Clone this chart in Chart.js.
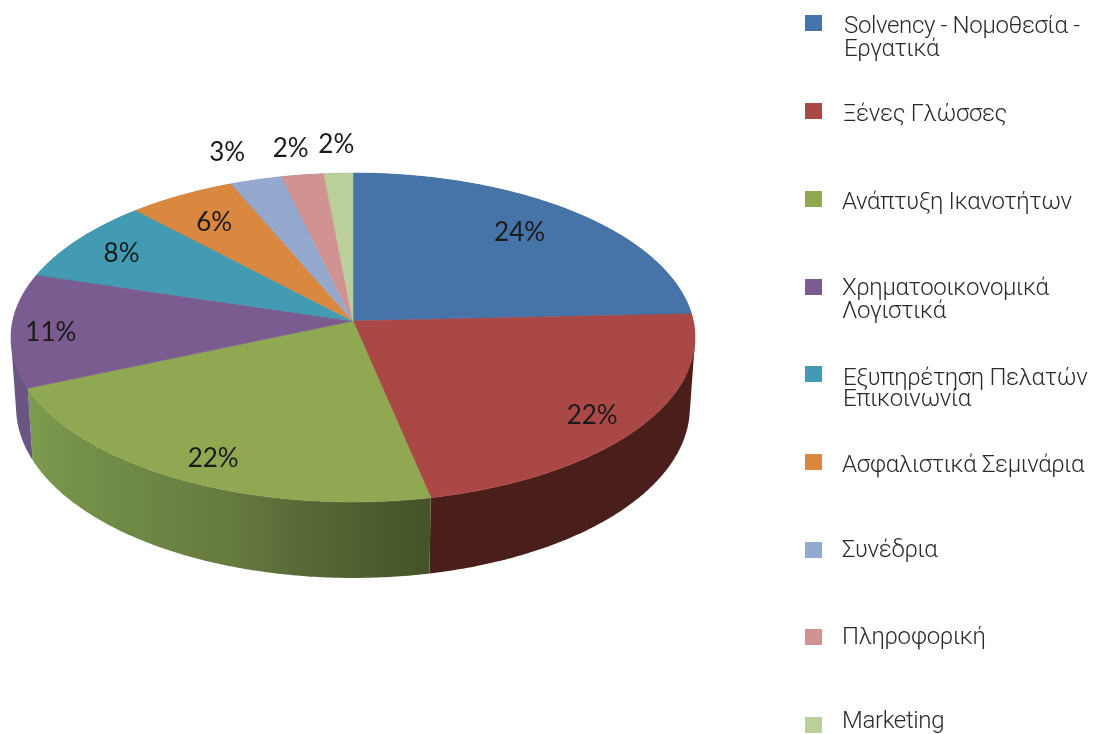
<!DOCTYPE html>
<html>
<head>
<meta charset="utf-8">
<style>
  html, body { margin: 0; background: #fff; }
  canvas { display: block; }
</style>
<script src="https://cdn.jsdelivr.net/npm/chart.js@4"></script>
</head>
<body>
<canvas id="pie3d" width="1096" height="734"></canvas>
<script>
var categories = ['Solvency - Νομοθεσία - Εργατικά', 'Ξένες Γλώσσες', 'Ανάπτυξη Ικανοτήτων', 'Χρηματοοικονομικά Λογιστικά',
    'Εξυπηρέτηση Πελατών Επικοινωνία', 'Ασφαλιστικά Σεμινάρια', 'Συνέδρια', 'Πληροφορική', 'Marketing'];
var legendLines = [['Solvency - Νομοθεσία -', 'Εργατικά'], ['Ξένες Γλώσσες'], ['Ανάπτυξη Ικανοτήτων'], ['Χρηματοοικονομικά', 'Λογιστικά'],
    ['Εξυπηρέτηση Πελατών', 'Επικοινωνία'], ['Ασφαλιστικά Σεμινάρια'], ['Συνέδρια'], ['Πληροφορική'], ['Marketing']];
var values = [24.3, 22.4, 21.8, 11.2, 8.3, 5.6, 2.7, 2.2, 1.5];
var colors = ['#4674a9', '#aa4845', '#8fa851', '#7b5c91', '#429bb3', '#da873f', '#95a9cf', '#d09392', '#bacf99'];
var sideColors = ['#2c4669', '#4a1f1b', '#66803f', '#6b5583', '#2a6272', '#8a5527', '#5e6c85', '#85605f', '#768360'];

// label placement: radius as a share of the pie, plus small nudges
var labelRadius = [0.77, 0.86, 0.85, 0.885, 0.84, 0.79, 1.23, 1.22, 1.245];
var labelNudgeX = [-5, -5, 4, 0, 1, -1, -9, -2, 1];
var labelNudgeY = [-3, 4, 5, 3, 2, 3, 2, 2, 4];

// legend layout
var legendSwatchY = [23, 111, 199, 287, 374, 462, 550, 637, 725];
var legendTextY = [33, 121, 209, 295, 385, 472, 557, 644, 728];
var legendTextX = [844, 843, 842, 842, 843, 842, 842, 842, 842];
var legendLineGap = [23, 0, 0, 23, 21, 0, 0, 0, 0];

// perspective of the tilted disc
var hubX = 353, hubY = 321, radX = 340.3, radY = 162.8, persp = 0.1003;

function project(angle, f) {
    var u = Math.cos(angle) * f, v = Math.sin(angle) * f;
    var w = 1 - persp * v;
    return { x: hubX + radX * u / w, y: hubY + radY * v / w };
}

function projectBottom(angle) {
    var p = project(angle, 1);
    return { x: hubX + (p.x - hubX) * 0.985, y: p.y + 69 + 7 * Math.sin(angle) };
}

function sideFill(ctx, i) {
    if (i !== 2) return sideColors[i];
    // the green wall is the only big one with visible shading
    var g = ctx.createLinearGradient(30, 0, 431, 0);
    g.addColorStop(0, '#7e9a4e');
    g.addColorStop(0.18, '#718d47');
    g.addColorStop(0.5, '#667b3f');
    g.addColorStop(0.68, '#586936');
    g.addColorStop(1, '#445328');
    return g;
}

// adds a quad to the path, always wound the same way so overlaps don't cancel
function addQuad(ctx, pts) {
    var area = 0, n;
    for (n = 0; n < 4; n++) {
        var m = (n + 1) % 4;
        area += pts[n].x * pts[m].y - pts[m].x * pts[n].y;
    }
    if (area < 0) pts.reverse();
    ctx.moveTo(pts[0].x, pts[0].y);
    for (n = 1; n < 4; n++) ctx.lineTo(pts[n].x, pts[n].y);
    ctx.closePath();
}

var pie3d = {
    id: 'pie3d',
    beforeDatasetsDraw: function (chart) {
        var ctx = chart.ctx;
        var arcs = chart.getDatasetMeta(0).data;
        var a, p;
        // walls first: strips in one path, filled once so no seams show
        arcs.forEach(function (arc, i) {
            ctx.beginPath();
            for (a = arc.startAngle; a < arc.endAngle; a += 0.01) {
                var b = Math.min(a + 0.01, arc.endAngle);
                addQuad(ctx, [project(a, 1), project(b, 1), projectBottom(b), projectBottom(a)]);
            }
            ctx.fillStyle = sideFill(ctx, i);
            ctx.fill();
        });
        // then the top
        arcs.forEach(function (arc) {
            ctx.beginPath();
            ctx.moveTo(hubX, hubY);
            for (a = arc.startAngle; a < arc.endAngle; a += 0.01) {
                p = project(a, 1);
                ctx.lineTo(p.x, p.y);
            }
            p = project(arc.endAngle, 1);
            ctx.lineTo(p.x, p.y);
            ctx.closePath();
            ctx.fillStyle = arc.options.backgroundColor;
            ctx.strokeStyle = arc.options.backgroundColor;
            ctx.lineWidth = 0.6;
            ctx.fill();
            ctx.stroke();
        });
        return false; // arcs are already painted in perspective
    },
    afterDraw: function (chart) {
        var ctx = chart.ctx;
        var arcs = chart.getDatasetMeta(0).data;
        ctx.save();
        ctx.textAlign = 'center';
        ctx.textBaseline = 'middle';
        ctx.font = '26px Lato';
        ctx.fillStyle = '#1a1a1a';
        arcs.forEach(function (arc, i) {
            var p = project((arc.startAngle + arc.endAngle) / 2, labelRadius[i]);
            ctx.fillText(Math.round(values[i]) + '%', p.x + labelNudgeX[i], p.y + labelNudgeY[i]);
        });
        // legend
        ctx.textAlign = 'left';
        ctx.textBaseline = 'alphabetic';
        ctx.font = '300 24px Roboto';
        ctx.letterSpacing = '-0.35px';
        legendLines.forEach(function (lines, i) {
            ctx.fillStyle = colors[i];
            ctx.fillRect(805, legendSwatchY[i] - 8, 17, 16);
            ctx.fillStyle = '#2a2a2a';
            lines.forEach(function (line, n) {
                ctx.fillText(line, legendTextX[i], legendTextY[i] + n * legendLineGap[i]);
            });
        });
        ctx.restore();
    }
};

var ctx = document.getElementById('pie3d').getContext('2d');
var chart = new Chart(ctx, {
    type: 'pie',
    data: {
        labels: categories,
        datasets: [{
            data: values,
            backgroundColor: colors,
            borderWidth: 0
        }]
    },
    options: {
        responsive: false,
        animation: false,
        events: [],
        plugins: {
            legend: { display: false },
            tooltip: { enabled: false }
        }
    },
    plugins: [pie3d]
});
</script>
</body>
</html>
